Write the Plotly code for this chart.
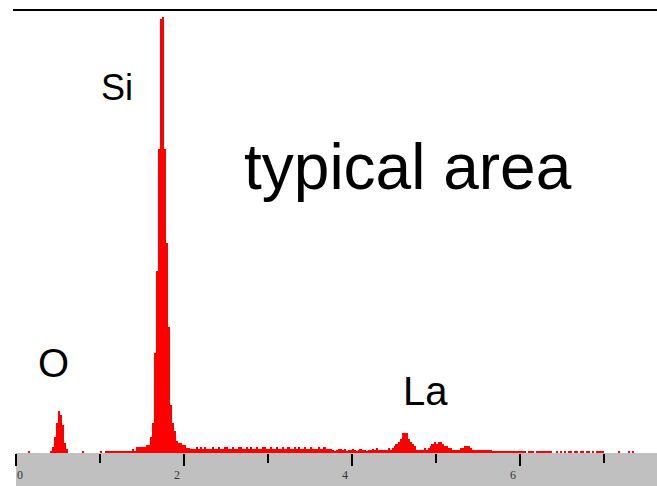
import plotly.graph_objects as go

# Energy calibration of the spectrum channels (keV per channel)
CH_KEV = 0.0238

# Counts per channel (arbitrary units), channel 0 starts at 0 keV
counts = [
    0, 0, 0, 0, 0, 0, 2, 0, 0, 0, 0, 0, 0, 0, 0, 0, 0, 2, 6, 16,
    30, 42, 38, 28, 10, 4, 0, 0, 0, 0, 0, 0, 0, 2, 0, 0, 0, 0, 0, 0,
    0, 0, 2, 0, 0, 2, 2, 2, 2, 2, 2, 2, 2, 2, 2, 2, 2, 2, 4, 2,
    6, 6, 6, 6, 6, 8, 8, 16, 30, 100, 182, 304, 434, 436, 304, 210, 126, 48, 30, 22,
    12, 10, 10, 8, 8, 5, 5, 4, 4, 4, 6, 4, 6, 4, 6, 4, 4, 4, 6, 4,
    4, 6, 4, 4, 6, 6, 4, 4, 6, 4, 4, 6, 6, 4, 4, 6, 4, 6, 4, 4,
    6, 4, 4, 6, 6, 4, 4, 6, 4, 4, 6, 4, 4, 6, 4, 4, 6, 4, 4, 6,
    4, 6, 4, 4, 6, 4, 4, 6, 4, 4, 4, 6, 4, 4, 6, 4,
    4, 4, 3, 2, 3, 4, 4, 3, 4, 2, 3, 3, 4, 3, 2, 3, 4, 3, 3, 2, 3, 3, 4, 3,
    5, 3, 3, 3, 3, 3, 5, 3, 5, 7, 9, 11, 14, 20, 20, 20, 14, 11, 9, 7,
    3, 3, 3, 3, 5, 3, 5, 7, 9, 11, 9, 11, 11, 9, 7, 7, 5, 5, 3, 3,
    3, 3, 5, 5, 7, 7, 7, 5, 3, 3, 3, 3, 3, 3, 3, 3, 3, 3, 2, 2,
    2, 2, 2, 2, 2, 2, 2, 2, 2, 2, 2, 2, 2, 2, 2, 0, 2, 2, 2, 0,
    2, 2, 2, 2, 2, 2, 2, 2, 0, 0, 2, 0, 2, 0, 2, 0, 2, 2, 0, 2,
    2, 0, 2, 2, 0, 2, 2, 0, 2, 0, 2, 2, 2, 2, 0, 0, 0, 0, 0, 0,
    0, 2, 0, 0, 0, 0, 2, 0, 2, 0,
]
energies = [(i + 0.5) * CH_KEV for i in range(len(counts))]

major_ticks = [0, 2, 4, 6]
major_labels = ["0", "2", "4", "6"]
minor_ticks = [1, 3, 5, 7]

x_max = 7.63
y_max = 443

# element labels: (text, x_keV, y_count, font size)
peak_labels = [("Si", 1.2, 366, 36), ("O", 0.45, 90, 40), ("La", 4.88, 62, 40)]
title_text = "typical area"

W, H = 657, 486
L, R, T, B = 16, 0, 10, 33
pw, ph = W - L - R, H - T - B

fig = go.Figure()
fig.add_trace(go.Bar(
    x=energies, y=counts, width=CH_KEV,
    marker=dict(color="#ff0000", line=dict(width=0)),
    hoverinfo="skip",
))

shapes = [
    dict(type="rect", xref="paper", yref="paper", x0=0, x1=1, y0=-B / ph, y1=0,
         fillcolor="#c0c0c0", line=dict(width=0), layer="below"),
    dict(type="line", xref="paper", yref="paper", x0=-3 / pw, x1=1, y0=1, y1=1,
         line=dict(color="black", width=2)),
]

annotations = []
for v, t in zip(major_ticks, major_labels):
    annotations.append(dict(
        x=v, y=-21.5 / ph, xref="x", yref="paper", text=t, showarrow=False,
        xanchor="left" if v == 0 else "right", xshift=-1 if v == 0 else -2,
        yanchor="middle",
        font=dict(family="Liberation Serif", size=12, color="#333333"),
    ))
for t, xv, yv, fs in peak_labels:
    annotations.append(dict(
        x=xv, y=yv, xref="x", yref="y", text=t, showarrow=False,
        xanchor="center", yanchor="middle",
        font=dict(family="Liberation Sans", size=fs, color="black"),
    ))
annotations.append(dict(
    x=4.67, y=286, xref="x", yref="y", text=title_text, showarrow=False,
    xanchor="center", yanchor="middle",
    font=dict(family="Liberation Sans", size=64, color="black"),
))

fig.update_layout(
    width=W, height=H,
    margin=dict(l=L, r=R, t=T, b=B, pad=0),
    paper_bgcolor="white", plot_bgcolor="white",
    showlegend=False, bargap=0,
    shapes=shapes, annotations=annotations,
    xaxis=dict(
        range=[0, x_max], showgrid=False, zeroline=False, showline=False,
        tickmode="array", tickvals=major_ticks, ticks="outside",
        ticklen=12, tickwidth=2, tickcolor="black", showticklabels=False,
        minor=dict(tickmode="array", tickvals=minor_ticks, ticks="outside",
                   ticklen=9, tickwidth=2, tickcolor="black", showgrid=False),
        fixedrange=True,
    ),
    yaxis=dict(range=[0, y_max], visible=False, fixedrange=True),
)

fig.write_html("out.html", config={"displayModeBar": False})
